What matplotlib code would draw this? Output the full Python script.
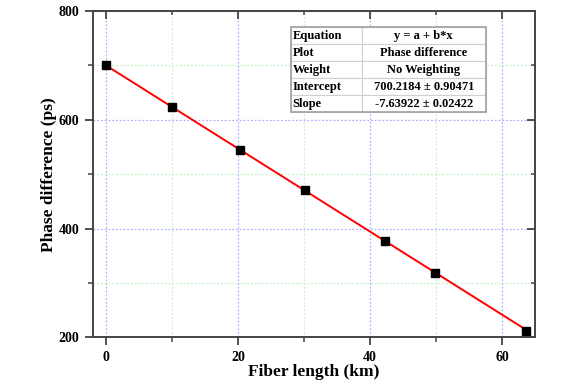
import numpy as np
import matplotlib
matplotlib.use('Agg')
import matplotlib.pyplot as plt
from matplotlib.ticker import MultipleLocator
from matplotlib.patches import Rectangle

plt.rcParams['font.family'] = ['Liberation Serif', 'DejaVu Serif']
plt.rcParams['font.weight'] = 'bold'

# 数据
fiber_km = [0, 10, 20.3, 30.2, 42.3, 49.9, 63.7]
phase_ps = [700, 624.6, 545.5, 470.5, 376.5, 319, 211]
intercept = 700.2184
slope = -7.63922

table_rows = [
    ['Equation', 'y = a + b*x'],
    ['Plot', 'Phase difference'],
    ['Weight', 'No Weighting'],
    ['Intercept', '700.2184 \u00b1 0.90471'],
    ['Slope', '-7.63922 \u00b1 0.02422'],
]

pos = [0.165, 0.119, 0.787, 0.852]
fig = plt.figure(figsize=(5.62, 3.83), dpi=100)
ax = fig.add_axes(pos)

# 拟合直线
xs = np.array([min(fiber_km), max(fiber_km)])
ax.plot(xs, intercept + slope * xs, color='red', lw=1.4, zorder=3)
ax.plot(fiber_km, phase_ps, 's', color='black', ms=5.5, mec='black', zorder=4)

def setup(a):
    a.set_xlim(-2, 65)
    a.set_ylim(200, 800)
    a.xaxis.set_major_locator(MultipleLocator(20))
    a.xaxis.set_minor_locator(MultipleLocator(10))
    a.yaxis.set_major_locator(MultipleLocator(200))
    a.yaxis.set_minor_locator(MultipleLocator(100))

setup(ax)

# 网格
ax.grid(which='major', color='#b0b0ff', ls=(0, (1.5, 1.5)), lw=0.9)
ax.grid(which='minor', color='#c8f0c8', ls=(0, (1.5, 1.5)), lw=0.9)
ax.set_axisbelow(True)

for s in ax.spines.values():
    s.set_linewidth(1.4)
    s.set_color('#444444')

ax.tick_params(which='major', direction='out', length=6, width=1.3, labelsize=10,
               color='#444444')
ax.tick_params(which='minor', direction='out', length=3.5, width=1.1, color='#444444')

# 上、右刻度（向内）
ax2 = fig.add_axes(pos, frameon=False)
setup(ax2)
ax2.patch.set_visible(False)
ax2.tick_params(which='both', bottom=False, left=False, top=True, right=True,
                labelbottom=False, labelleft=False, direction='in', color='#444444')
ax2.tick_params(which='major', length=6, width=1.3)
ax2.tick_params(which='minor', length=3, width=1.1)

for lab in ax.get_xticklabels() + ax.get_yticklabels():
    lab.set_fontweight('bold')

ax.set_xlabel('Fiber length (km)', fontsize=12.5, fontweight='bold', labelpad=0)
ax.set_ylabel('Phase difference (ps)', fontsize=12.5, fontweight='bold', labelpad=1)

# 参数表
tb = ax2.table(cellText=table_rows, colWidths=[0.363, 0.637],
               bbox=[0.448, 0.69, 0.441, 0.261], zorder=5)
tb.auto_set_font_size(False)
for (r, c), cell in tb.get_celld().items():
    cell.set_edgecolor('#d0d0d0')
    cell.set_linewidth(0.8)
    cell.set_facecolor('white')
    cell.get_text().set_fontsize(9)
    cell.get_text().set_fontweight('bold')
    if c == 0:
        cell.get_text().set_ha('left')
        cell.PAD = 0.025
    else:
        cell.get_text().set_ha('center')
ax2.add_patch(Rectangle((0.448, 0.69), 0.441, 0.261, transform=ax2.transAxes,
                        fill=False, ec='#a0a0a0', lw=1.2, zorder=6))

fig.savefig('out.png', dpi=100)
